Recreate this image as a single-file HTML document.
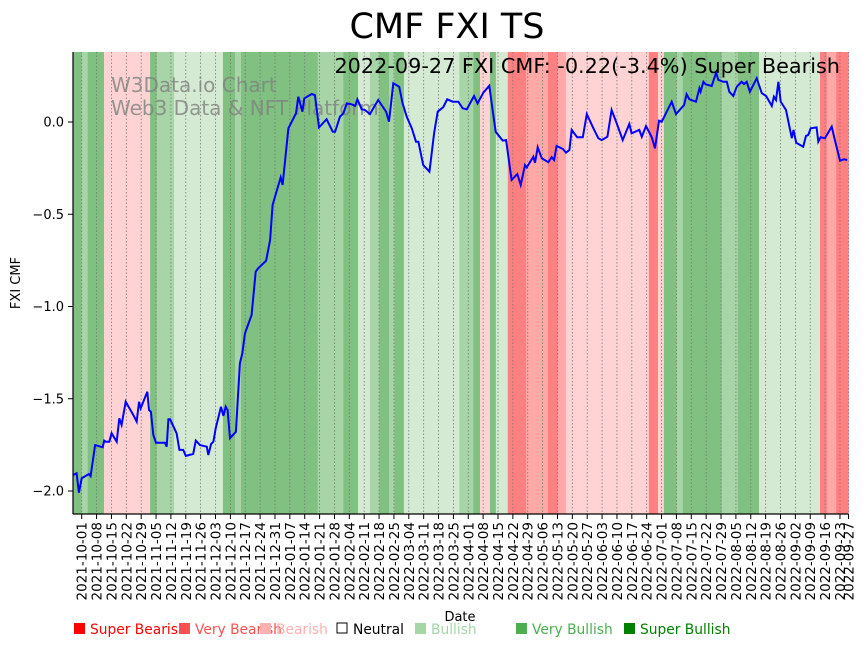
<!DOCTYPE html>
<html><head><meta charset="utf-8"><style>
body{margin:0;background:#fff;}
svg text{font-family:"DejaVu Sans","Liberation Sans",sans-serif;}
</style></head><body>
<svg id="chart" width="867" height="646" xmlns="http://www.w3.org/2000/svg">
<text x="447" y="38" font-size="35" text-anchor="middle">CMF FXI TS</text>
<g id="bands"></g>
<g id="grid"></g>
<text x="111" y="92" font-size="20" fill="#808080" fill-opacity="0.8">W3Data.io Chart</text>
<text x="111" y="115" font-size="20" fill="#808080" fill-opacity="0.8">Web3 Data &amp; NFT Platform</text>
<path id="line" fill="none" stroke="#0000ff" stroke-width="2"/>
<text x="840" y="73" font-size="20.8" text-anchor="end">2022-09-27 FXI CMF: -0.22(-3.4%) Super Bearish</text>
<g id="axes"></g>
<text x="20" y="283" font-size="13" text-anchor="middle" transform="rotate(-90 20 283)">FXI CMF</text>
<text x="460" y="621" font-size="13" text-anchor="middle">Date</text>
<g id="legend"></g>
</svg>
<script>
const dayOffsets=[-4,-2.4,-1.3,0,3.4,4.2,6.3,9.9,10.6,11.4,13,14.1,16.5,17.7,18.8,20.7,24.3,25.9,27,27.8,30.9,31.7,32.6,33.7,35,39.2,40,40.8,41.6,44.7,46,47.8,49,52.5,53.7,55.7,58.9,59.6,60.9,62,63.1,65.6,66.7,67.8,68.7,69.8,72.6,74.5,75.6,76.9,80,81.9,83.1,86.8,88.7,89.9,93.7,94.6,97.3,100.9,102,103.9,104.8,108.3,109.8,111.7,115.3,118.2,119.3,121.6,123.2,124.8,127.1,128.7,129.8,131,131.8,133.4,135.7,139.6,143.3,144.7,146.7,149.5,151.1,153,155.4,157.4,158.5,160.1,160.8,163.7,164.5,165.9,167.6,170.2,172.1,174.7,177.3,179.4,181.3,184.7,186.4,189.1,191.9,193.8,194.9,198.2,199.8,202.4,205.1,206.7,208.7,209.5,212.6,213.4,214.7,216.6,219.7,221.3,222.4,223.6,226.5,228,229.6,230.7,233.3,235.9,237.8,240.9,243.2,244.8,247.5,249.5,251.9,254.7,257.8,258.9,262.5,263.7,265.7,268.4,269.9,271.8,273.1,277.8,279.8,283.6,284.8,286.1,289.2,290.8,291.4,292.7,293.8,296.6,298.7,299.7,302.1,303.7,304.9,306.8,308.4,310.7,311.8,313.1,314.6,317.8,320.2,322.2,324.9,325.9,326.9,328,329.1,331.6,334.3,335.1,336.4,339.7,341,342.1,343.2,346,346.8,347.9,349.9,353.1,354.6,357,358.9,360.4];
const cmfValues=[-1.913,-1.904,-2.009,-1.931,-1.908,-1.919,-1.751,-1.763,-1.727,-1.733,-1.733,-1.687,-1.733,-1.606,-1.642,-1.516,-1.588,-1.624,-1.516,-1.552,-1.462,-1.561,-1.570,-1.696,-1.738,-1.738,-1.760,-1.611,-1.611,-1.687,-1.777,-1.777,-1.810,-1.799,-1.727,-1.751,-1.760,-1.805,-1.745,-1.733,-1.660,-1.543,-1.593,-1.543,-1.561,-1.714,-1.679,-1.308,-1.254,-1.145,-1.046,-0.811,-0.793,-0.752,-0.640,-0.450,-0.300,-0.341,-0.034,0.047,0.137,0.056,0.128,0.152,0.146,-0.029,0.015,-0.053,-0.053,0.029,0.047,0.101,0.096,0.087,0.123,0.092,0.069,0.065,0.043,0.119,0.056,0.002,0.210,0.191,0.101,0.029,-0.034,-0.107,-0.107,-0.197,-0.233,-0.269,-0.197,-0.061,0.056,0.080,0.123,0.110,0.110,0.074,0.069,0.141,0.101,0.159,0.197,0.038,-0.053,-0.101,-0.098,-0.314,-0.282,-0.341,-0.233,-0.246,-0.188,-0.221,-0.137,-0.197,-0.218,-0.191,-0.206,-0.130,-0.146,-0.166,-0.152,-0.043,-0.083,-0.083,0.043,-0.034,-0.088,-0.098,-0.080,0.065,-0.007,-0.098,-0.011,-0.061,-0.043,-0.080,-0.022,-0.083,-0.143,0.007,0.002,0.110,0.043,0.092,0.150,0.123,0.110,0.183,0.164,0.218,0.204,0.195,0.267,0.228,0.218,0.218,0.164,0.141,0.191,0.218,0.206,0.218,0.164,0.237,0.156,0.141,0.087,0.137,0.119,0.218,0.110,0.065,-0.088,-0.043,-0.112,-0.134,-0.076,-0.070,-0.034,-0.029,-0.107,-0.083,-0.088,-0.025,-0.098,-0.210,-0.202,-0.206];
const bandStarts=[-4,0,2.8,10.5,32.2,35.3,43.5,66.5,72.2,75,111.1,123.2,130.1,135.7,140.1,144.7,147.2,151.7,177.8,184.4,187.5,192.2,195,200.6,209.2,219.5,224.1,228,267,271.3,274.1,280.1,283,301.3,308.9,318.9,347.6,350.8,355.2];
const bandCats=["SBu","VBu","SBu","Br","SBu","VBu","Bu","SBu","VBu","SBu","VBu","SBu","Bu","VBu","SBu","VBu","SBu","Bu","VBu","SBu","Br","SBu","Bu","SBr","VBr","SBr","VBr","Br","SBr","Br","SBu","VBu","SBu","VBu","SBu","Bu","SBr","VBr","SBr"];
const yTicks=[0,-0.5,-1,-1.5,-2];
const yTickLabels=["0.0","\u22120.5","\u22121.0","\u22121.5","\u22122.0"];
const domainEnd=361;
const NS="http://www.w3.org/2000/svg";
const L=73,R=848.5,T=52,B=514;
const xs=d=>81.7+d*2.124;
const ys=v=>122-v*184.5;
const colors={SBu:"#80c080",VBu:"#a8d5a8",Bu:"#d5ead3",Br:"#ffd3d3",VBr:"#ffa8a8",SBr:"#ff8080"};
function mk(tag,attrs,parent){const e=document.createElementNS(NS,tag);for(const k in attrs)e.setAttribute(k,attrs[k]);parent.appendChild(e);return e;}
const bands=document.getElementById('bands');
for(let i=0;i<bandStarts.length;i++){
  const x0=xs(bandStarts[i]),x1=xs(i+1<bandStarts.length?bandStarts[i+1]:domainEnd);
  const r=mk('rect',{x:x0,y:T,width:x1-x0+0.3,height:B-T,fill:colors[bandCats[i]]},bands);
  
  
}
const grid=document.getElementById('grid'),axes=document.getElementById('axes');
const start=new Date(Date.UTC(2021,9,1));
const tickDays=[];for(let d=0;d<=357;d+=7)tickDays.push(d);tickDays.push(361);
tickDays.forEach(d=>{
  const x=xs(d);
  const g=mk('line',{x1:x,x2:x,y1:T,y2:B,stroke:'#777','stroke-width':0.8,'stroke-dasharray':'1.5,2'},grid);
  
  
  mk('line',{x1:x,x2:x,y1:B,y2:B+5,stroke:'#000','stroke-width':1},axes);
  const dt=new Date(start.getTime()+d*86400000);
  const lab=dt.toISOString().slice(0,10);
  const t=mk('text',{x:x+5,y:B+8,'font-size':13.5,'text-anchor':'end',transform:`rotate(-90 ${x+5} ${B+8})`},axes);
  t.textContent=lab;
  
  
});
yTicks.forEach((v,i)=>{
  const y=ys(v);
  mk('line',{x1:L-5,x2:L,y1:y,y2:y,stroke:'#000'},axes);
  const t=mk('text',{x:L-9,y:y+4.5,'font-size':13,'text-anchor':'end'},axes);
  t.textContent=yTickLabels[i];
  
  
});
mk('line',{x1:L,x2:L,y1:T,y2:B,stroke:'#000','stroke-width':1.2},axes);
mk('line',{x1:L,x2:R,y1:B,y2:B,stroke:'#000','stroke-width':1.2},axes);
document.getElementById('line').setAttribute('d',dayOffsets.map((d,i)=>(i?'L':'M')+xs(d).toFixed(1)+','+ys(cmfValues[i]).toFixed(1)).join(''));
const legendLabels=["Super Bearish","Very Bearish","Bearish","Neutral","Bullish","Very Bullish","Super Bullish"];
const legendColors=["#ff0000","#ff5050","#ffb0b0","#000000","#a5d6a7","#4caf50","#008000"];
const legendX=[73,178,259,336,414,515,623];
const lg=document.getElementById('legend');
legendLabels.forEach((s,i)=>{
  const g=mk('g',{},lg);
  
  
  if(s==="Neutral")mk('rect',{x:legendX[i]+1,y:623,width:10,height:10,fill:'none',stroke:'#000'},g);
  else mk('rect',{x:legendX[i]+1,y:623,width:11,height:11,fill:legendColors[i]},g);
  const t=mk('text',{x:legendX[i]+17,y:634,'font-size':13.8,fill:legendColors[i]},g);
  t.textContent=s;
});
</script>
</body></html>
